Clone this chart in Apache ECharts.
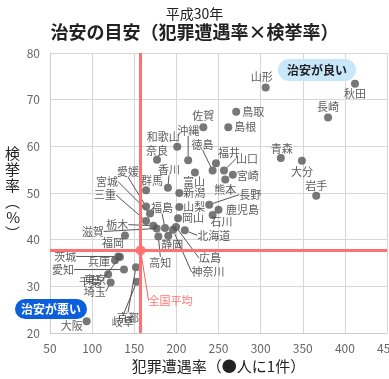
<!DOCTYPE html>
<html><head><meta charset="utf-8">
<script src="https://cdn.jsdelivr.net/npm/echarts@6/dist/echarts.min.js"></script>
<style>html,body{margin:0;padding:0;background:#fff}#c{width:389px;height:379px}</style>
</head><body><div id="c"></div>
<script>
// ---- data ----
const prefectures = ['山形','秋田','長崎','鳥取','島根','佐賀','沖縄','和歌山','奈良','香川','群馬','富山','徳島','福井','山口','宮崎','熊本','青森','大分','岩手','新潟','長野','鹿児島','石川','山梨','岡山','北海道','福島','愛媛','宮城','三重','栃木','滋賀','福岡','静岡','高知','広島','神奈川','茨城','兵庫','愛知','京都','東京','埼玉','岐阜','千葉','大阪'];
const crimeRate = [306,412,380,271,261.6,232,214,201,177,190,164,222,243,247,256.5,267,258,324,349,366,203.5,239,250,243,203.5,202,210,186.5,164,168.7,164,172.6,176.6,139,190.4,178.6,199.6,196,131,127.2,137.8,152,119,122,153,133,93.5];
const clearanceRate = [72.6,73.4,66.2,67.4,64.1,64.1,57.0,59.9,57.1,51.1,50.6,54.4,54.8,56.4,54.8,53.9,52.9,57.5,56.9,49.4,50.0,47.5,46.4,45.3,47.0,44.6,42.0,42.5,47.1,45.6,44.0,43.0,42.4,40.9,40.85,40.7,42.7,42.1,36.4,35.6,33.6,34.1,32.6,30.8,31.0,36.3,22.5];
const nationalAvgName = '全国平均';
const nationalAvgX = 157.5;
const nationalAvgY = 37.7;
const xTicks = [50,100,150,200,250,300,350,400,450];
const yTicks = [20,30,40,50,60,70,80];

// ---- label layout (px offsets of label centre from dot, leader line flag) ----
const labelPlacement = {
 '山形':[-4,-11,0],'秋田':[0,10,0],'長崎':[0,-11,0],'鳥取':[17,0,0],'島根':[17,0,0],'佐賀':[0,-11,0],
 '沖縄':[0,-30,1],'和歌山':[-14,-10,0],'奈良':[0,-9,0],'香川':[1,-18,1],'群馬':[6,-9,0],'富山':[-1,9,0],
 '徳島':[-10,-26,1],'福井':[13,-10,0],'山口':[23,-12,1],'宮崎':[15,1,0],'熊本':[0,10,0],'青森':[1,-9,0],
 '大分':[0,11,0],'岩手':[0,-10,0],'新潟':[15,0,0],'長野':[41,-10,1],'鹿児島':[24,0,0],'石川':[9,7,0],
 '山梨':[15,0,0],'岡山':[15,0,0],'北海道':[29,5,1],'福島':[-3,-20,1],'愛媛':[-18,-35,1],'宮城':[-43,-32,1],
 '三重':[-41,-26,1],'栃木':[-36,-1,1],'滋賀':[-64,3,1],'福岡':[-12,7,0],'静岡':[4,9,0],'高知':[2,26,1],
 '広島':[34,31,1],'神奈川':[35,42,1],'茨城':[-53,0,1],'兵庫':[-16,2,0],'愛知':[-61,0,1],'京都':[-8,51,1],
 '東京':[-13,6,0],'埼玉':[-16,9,1],'岐阜':[-14,40,1],'千葉':[-30,25,1],'大阪':[-15,4,0],
 '全国平均':[30,50,1]
};

const FONT = '"Noto Sans CJK JP","Noto Sans",sans-serif';
const points = prefectures.map((n,i)=>({
  name:n, value:[crimeRate[i], clearanceRate[i]],
  labelLine:{show: !!labelPlacement[n][2]}
}));
function layoutFn(p){
  const name = p.seriesIndex === 0 ? prefectures[p.dataIndex] : nationalAvgName;
  const o = labelPlacement[name];
  return {x: p.rect.x + p.rect.width/2 + o[0], y: p.rect.y + p.rect.height/2 + o[1], align:'center', verticalAlign:'middle'};
}

const chart = echarts.init(document.getElementById('c'), null, {renderer:'canvas'});
chart.setOption({
  animation:false,
  textStyle:{fontFamily:FONT},
  title:[
    {text:'平成30年', left:'center', top:2, textStyle:{fontSize:14, fontWeight:'normal', color:'#222', fontFamily:FONT}},
    {text:'治安の目安（犯罪遭遇率×検挙率）', left:'center', top:18, textStyle:{fontSize:18, fontWeight:'bold', color:'#222', fontFamily:FONT}}
  ],
  grid:{left:50, right:2, top:53, bottom:46, containLabel:false, outerBoundsMode:'none'},
  xAxis:{type:'value', min:xTicks[0], max:xTicks[xTicks.length-1], interval:50,
    name:'犯罪遭遇率（●人に1件）', nameLocation:'middle', nameGap:26,
    nameTextStyle:{fontSize:15, color:'#222', fontFamily:FONT},
    axisLine:{show:true, lineStyle:{color:'#ccc'}}, axisTick:{show:false},
    axisLabel:{color:'#666', fontSize:12, margin:9, fontFamily:FONT},
    splitLine:{show:true, lineStyle:{color:'#d6d6d6'}}},
  yAxis:{type:'value', min:yTicks[0], max:yTicks[yTicks.length-1], interval:10,
    name:'検\n挙\n率\n︵\n%\n︶', nameLocation:'middle', nameGap:30, nameRotate:0,
    nameTextStyle:{fontSize:15, lineHeight:16, color:'#222', fontFamily:FONT},
    axisLine:{show:true, lineStyle:{color:'#ccc'}}, axisTick:{show:false},
    axisLabel:{color:'#666', fontSize:12, margin:10, fontFamily:FONT},
    splitLine:{show:true, lineStyle:{color:'#d6d6d6'}}},
  series:[
    {type:'scatter', symbolSize:8, itemStyle:{color:'#555'}, data:points, z:3,
     label:{show:true, formatter:'{b}', fontSize:11, color:'#333', fontFamily:FONT},
     labelLine:{show:false, lineStyle:{color:'#555', width:1}},
     labelLayout:layoutFn,
     markLine:{silent:true, symbol:'none', label:{show:false},
       lineStyle:{color:'#ff7070', width:3, type:'solid'},
       data:[{xAxis:nationalAvgX},{yAxis:nationalAvgY}]}
    },
    {type:'scatter', symbolSize:10, itemStyle:{color:'#ff6060'}, z:4,
     data:[{name:nationalAvgName, value:[nationalAvgX, nationalAvgY]}],
     label:{show:true, formatter:'{b}', fontSize:11, color:'#ff5050', fontFamily:FONT},
     labelLine:{show:true, lineStyle:{color:'#ff6060', width:1}},
     labelLayout:layoutFn
    }
  ],
  graphic:[
    {type:'text', left:278, top:59, z:10, style:{text:'治安が良い', fontSize:12, fontWeight:'bold', fill:'#222',
      backgroundColor:'#c9e7fb', borderRadius:11, padding:[5,9,5,9], fontFamily:FONT}},
    {type:'text', left:15, top:299, z:10, style:{text:'治安が悪い', fontSize:12, fontWeight:'bold', fill:'#fff',
      backgroundColor:'#0b5fdc', borderRadius:10, padding:[4,6,4,6], fontFamily:FONT}}
  ]
});
</script></body></html>
